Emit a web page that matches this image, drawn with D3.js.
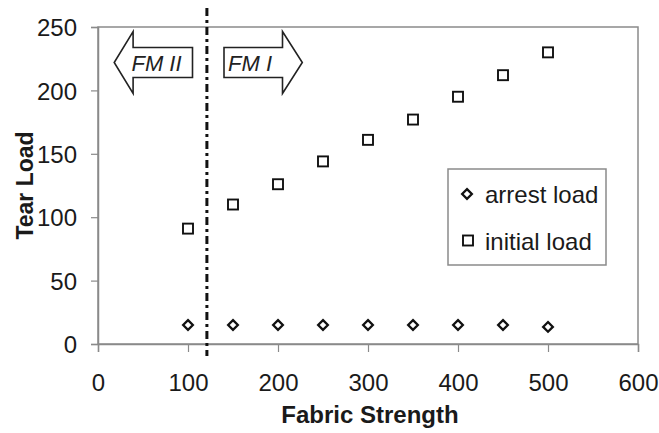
<!DOCTYPE html>
<html><head><meta charset="utf-8">
<script src="https://cdn.jsdelivr.net/npm/d3@7"></script>
<style>body{margin:0;background:#fff}text{font-family:Arial,"Liberation Sans",sans-serif}</style>
</head><body>
<svg id="c" width="659" height="433"></svg>
<script>
const fabricStrength = [100,150,200,250,300,350,400,450,500];
const arrestLoad = [15,15,15,15,15,15,15,15,13.5];
const initialLoad = [91,110,126,144,161,177,195,212,230];
const xTicks = [0,100,200,300,400,500,600];
const yTicks = [0,50,100,150,200,250];
const boundaryX = 121;

const svg = d3.select("#c");
const m = {l:98, r:638, t:27, b:344};
const x = d3.scaleLinear().domain([0,600]).range([m.l,m.r]);
const y = d3.scaleLinear().domain([0,250]).range([m.b,m.t]);
const gray = "#8a8a8a", ink = "#1a1a1a";
const FF = "Arial, 'Liberation Sans', sans-serif";

// frame
svg.append("rect").attr("x",m.l).attr("y",m.t).attr("width",m.r-m.l).attr("height",m.b-m.t)
  .attr("fill","none").attr("stroke",gray).attr("stroke-width",1.5);

const xa = svg.append("g").attr("transform",`translate(0,${m.b})`)
  .call(d3.axisBottom(x).tickValues(xTicks).tickSize(8).tickPadding(22));
const ya = svg.append("g").attr("transform",`translate(${m.l},0)`)
  .call(d3.axisLeft(y).tickValues(yTicks).tickSize(7).tickPadding(14));
[xa,ya].forEach(a=>{
  a.attr("font-size",null).attr("font-family",null);
  a.select(".domain").attr("stroke",gray).attr("stroke-width",1.5);
  a.selectAll(".tick line").attr("stroke",gray).attr("stroke-width",1.2);
  a.selectAll(".tick text").attr("fill",ink).attr("font-size",24).attr("font-family",FF);
});
ya.selectAll(".tick text").attr("dy","0.36em");

// axis titles
svg.append("text").attr("x",370).attr("y",423).attr("text-anchor","middle")
  .attr("font-weight","bold").attr("font-size",24).attr("fill",ink).text("Fabric Strength");
svg.append("text").attr("transform",`translate(33,${(m.t+m.b)/2}) rotate(-90)`).attr("text-anchor","middle")
  .attr("font-weight","bold").attr("font-size",23).attr("fill",ink).text("Tear Load");

// dash-dot boundary
svg.append("line").attr("x1",x(boundaryX)).attr("x2",x(boundaryX)).attr("y1",8).attr("y2",356)
  .attr("stroke","#111").attr("stroke-width",3).attr("stroke-dasharray","8,4,3,4");

// arrows
const cy = y(222), hh = 31, sh = 15;
function arrow(tail, base, tip, label, lx){
  const pts = [[tail,cy-sh],[base,cy-sh],[base,cy-hh],[tip,cy],[base,cy+hh],[base,cy+sh],[tail,cy+sh]];
  svg.append("path").attr("d",d3.line()(pts)+"Z").attr("fill","#fff").attr("stroke","#222").attr("stroke-width",1.6);
  svg.append("text").attr("x",lx).attr("y",cy+8).attr("text-anchor","middle").attr("font-style","italic")
    .attr("font-size",22).attr("fill","#222").text(label);
}
arrow(x(105), x(39), x(18), "FM II", x(65));
arrow(x(140), x(205), x(227), "FM I", x(169));

// markers
const diamond = d3.symbol().type(d3.symbolDiamond2).size(60);
svg.append("g").selectAll("path").data(fabricStrength).join("path")
  .attr("d",diamond).attr("transform",(d,i)=>`translate(${x(d)},${y(arrestLoad[i])})`)
  .attr("fill","#fff").attr("stroke","#111").attr("stroke-width",2.3);
svg.append("g").selectAll("rect").data(fabricStrength).join("rect")
  .attr("x",d=>x(d)-5).attr("y",(d,i)=>y(initialLoad[i])-5).attr("width",10).attr("height",10)
  .attr("fill","#fff").attr("stroke","#111").attr("stroke-width",1.9);

// legend
const lg = svg.append("g").attr("transform","translate(448,169)");
lg.append("rect").attr("width",158).attr("height",96).attr("fill","#fff").attr("stroke",gray).attr("stroke-width",1.5);
lg.append("path").attr("d",diamond).attr("transform","translate(19,25)").attr("fill","#fff").attr("stroke","#111").attr("stroke-width",2.3);
lg.append("rect").attr("x",15).attr("y",66.5).attr("width",10).attr("height",10).attr("fill","#fff").attr("stroke","#111").attr("stroke-width",1.9);
lg.append("text").attr("x",37).attr("y",34).attr("font-size",24).attr("fill",ink).text("arrest load");
lg.append("text").attr("x",37).attr("y",81).attr("font-size",24).attr("fill",ink).text("initial load");
</script>
</body></html>
